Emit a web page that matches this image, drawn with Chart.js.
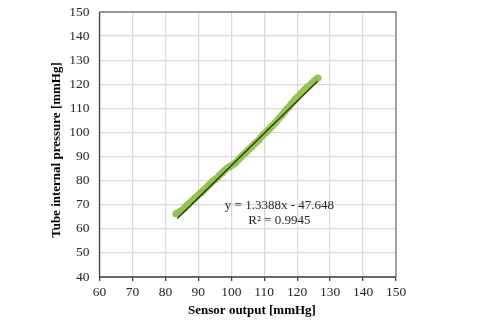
<!DOCTYPE html>
<html>
<head>
<meta charset="utf-8">
<script src="https://cdn.jsdelivr.net/npm/chart.js@4/dist/chart.umd.min.js"></script>
<style>
html,body{margin:0;padding:0;background:#fff;}
#wrap{width:480px;height:320px;position:relative;}
</style>
</head>
<body>
<div id="wrap"><canvas id="c" width="480" height="320"></canvas></div>
<script>
// Sensor output [mmHg] (x) vs tube internal pressure [mmHg] (y)
const sensorOutput = [83.2,83.8,84.5,85.2,86.0,86.7,87.4,88.1,88.8,89.5,90.2,90.9,91.6,92.3,93.0,93.7,94.4,95.1,95.8,96.5,97.2,97.9,98.6,99.3,100.0,100.7,101.4,102.1,102.8,103.5,104.2,104.9,105.6,106.3,107.0,107.7,108.4,109.1,109.8,110.5,111.2,111.9,112.6,113.3,114.0,114.7,115.4,116.1,116.8,117.5,118.2,118.9,119.6,120.3,121.0,121.7,122.4,123.1,123.8,124.5,125.2,125.9,126.3];
const tubePressure = [66.3,66.5,67.3,67.9,69.0,69.9,70.8,71.6,72.5,73.4,74.3,75.0,76.0,76.9,77.9,78.8,79.7,80.5,81.3,82.3,83.2,84.2,85.0,85.6,86.2,86.8,87.5,88.6,89.6,90.5,91.4,92.4,93.3,94.1,95.2,96.0,96.9,98.1,99.1,100.0,101.0,102.0,102.9,103.9,105.1,106.2,107.2,108.4,109.6,110.6,111.8,112.9,113.9,114.9,115.9,116.9,117.9,118.8,119.6,120.5,121.4,122.2,122.6];
const trendX = [83.6,126.2];
const trendY = [64.28,121.31];
const xTicks = [60,70,80,90,100,110,120,130,140,150];
const yTicks = [40,50,60,70,80,90,100,110,120,130,140,150];
const equationText = ["y = 1.3388x - 47.648","R\u00b2 = 0.9945"];
const xTitle = "Sensor output [mmHg]";
const yTitle = "Tube internal pressure [mmHg]";

const serif = "'Liberation Serif','Times New Roman',serif";

const frame = {
  id:'frame',
  afterDraw(chart){
    const a = chart.chartArea, ctx = chart.ctx;
    ctx.save();
    ctx.strokeStyle = '#7f7f7f';
    ctx.lineWidth = 1.3;
    ctx.beginPath();
    ctx.moveTo(a.left, a.top); ctx.lineTo(a.right, a.top); ctx.lineTo(a.right, a.bottom);
    ctx.stroke();
    ctx.strokeStyle = '#404040';
    ctx.beginPath();
    ctx.moveTo(a.left, a.top); ctx.lineTo(a.left, a.bottom); ctx.lineTo(a.right, a.bottom);
    ctx.stroke();
    // equation label
    const xs = chart.scales.x, ys = chart.scales.y;
    ctx.fillStyle = '#262626';
    ctx.font = "13px " + serif;
    ctx.textAlign = 'center';
    ctx.textBaseline = 'middle';
    ctx.fillText(equationText[0], xs.getPixelForValue(114.6), ys.getPixelForValue(69.8));
    ctx.fillText(equationText[1], xs.getPixelForValue(114.6), ys.getPixelForValue(63.6));
    // axis titles
    ctx.fillStyle = '#000';
    ctx.font = "bold 13px " + serif;
    ctx.fillText(xTitle, 252, 311);
    ctx.translate(57, 150);
    ctx.rotate(-Math.PI/2);
    ctx.fillText(yTitle, 0, 0);
    ctx.restore();
  }
};

new Chart(document.getElementById('c'), {
  type:'scatter',
  data:{
    datasets:[
      {
        label:'data',
        data: sensorOutput.map((x,i)=>({x:x,y:tubePressure[i]})),
        pointRadius:3.6,
        pointBackgroundColor:'#92c353',
        pointBorderWidth:0,
        showLine:false,
        order:2
      },
      {
        label:'trend',
        data: trendX.map((x,i)=>({x:x,y:trendY[i]})),
        showLine:true,
        borderColor:'#1f2a14',
        borderWidth:1.2,
        pointRadius:0,
        order:1
      }
    ]
  },
  options:{
    responsive:false,
    animation:false,
    devicePixelRatio:1,
    layout:{padding:{left:0,right:84,top:12,bottom:0}},
    plugins:{legend:{display:false},tooltip:{enabled:false}},
    scales:{
      x:{
        type:'linear', min:60, max:150,
        afterBuildTicks(s){ s.ticks = xTicks.map(v=>({value:v})); },
        afterFit(s){ s.height = 43; s.paddingLeft = 0; s.paddingRight = 0; },
        grid:{color:'#d9d9d9', lineWidth:1.3, drawTicks:true, tickLength:4, tickColor:'#404040'},
        border:{display:false},
        ticks:{color:'#262626', font:{family:serif,size:13.5}, padding:3, maxRotation:0},
        title:{display:false}
      },
      y:{
        type:'linear', min:40, max:150,
        afterBuildTicks(s){ s.ticks = yTicks.map(v=>({value:v})); },
        afterFit(s){ s.width = 99.5; s.paddingTop = 0; s.paddingBottom = 0; },
        grid:{color:'#d9d9d9', lineWidth:1.3, drawTicks:false},
        border:{display:false},
        ticks:{color:'#262626', font:{family:serif,size:13.5}, padding:10},
        title:{display:false}
      }
    }
  },
  plugins:[frame]
});
</script>
</body>
</html>
